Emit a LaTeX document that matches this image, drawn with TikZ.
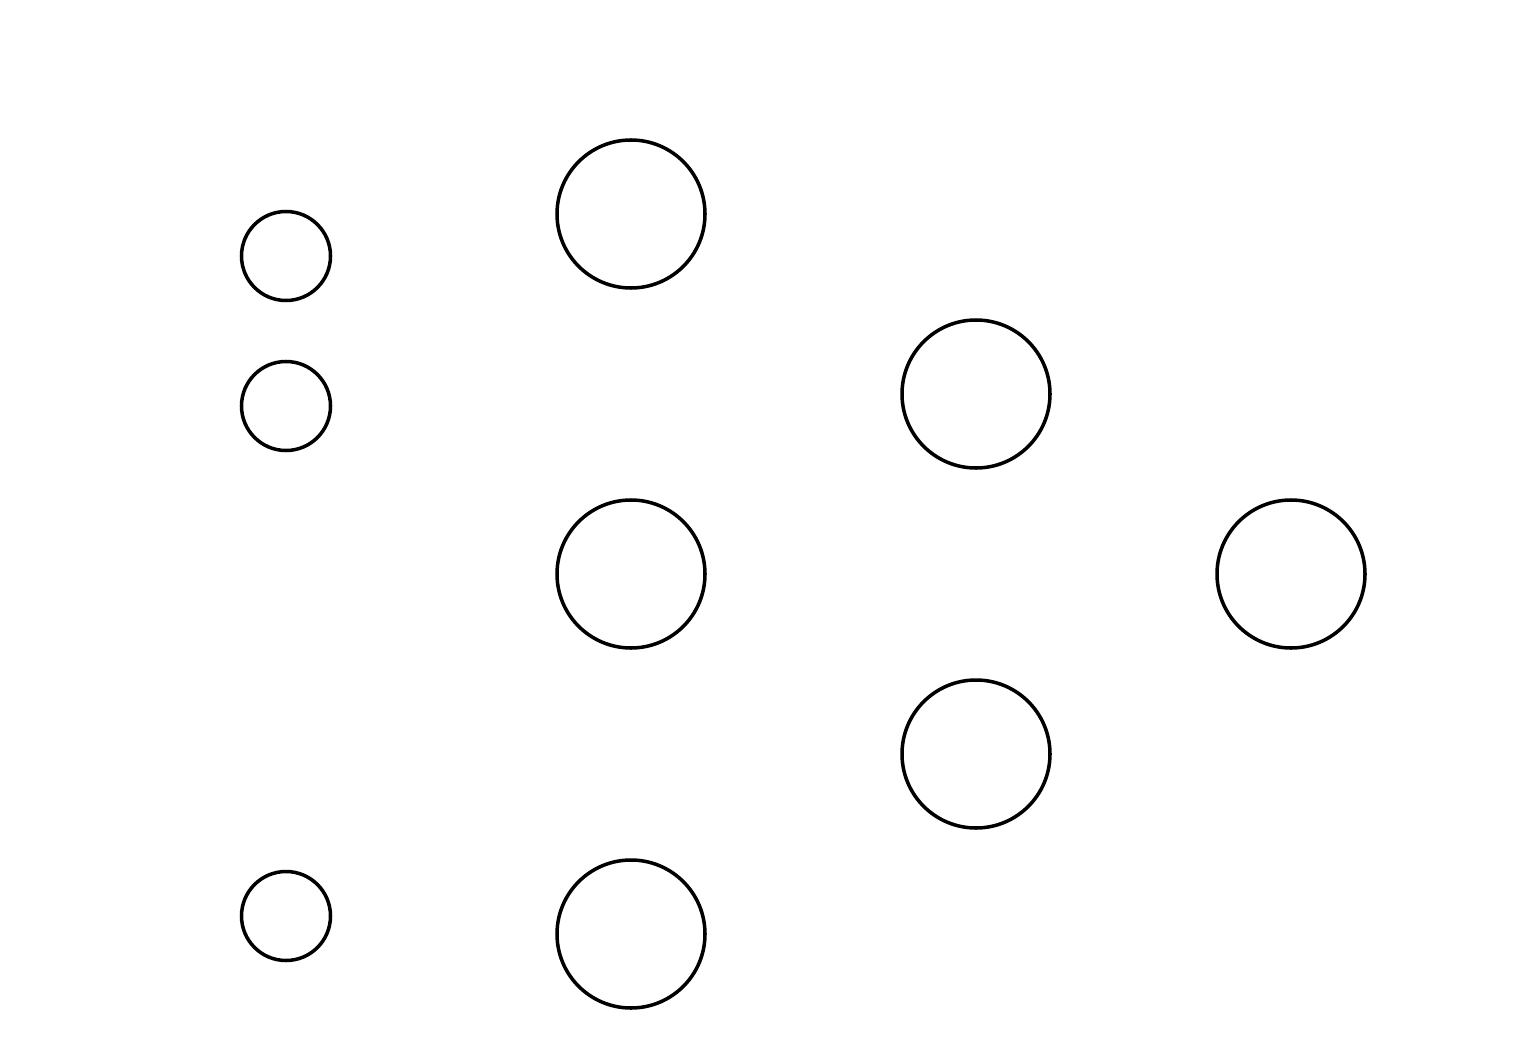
\documentclass[tikz,border=0pt]{standalone}
\usepackage{tikz}
\usetikzlibrary{shapes.geometric, calc, positioning}
\tikzstyle{inputneuron} = [circle, line width=1pt, draw=black, inner sep=0pt, minimum size=0.89cm]
\tikzstyle{neuron} = [circle, line width=1pt, draw=black, inner sep=0pt, minimum size=1.48cm]

\begin{document}
\begin{tikzpicture}[on grid, auto]
	\useasboundingbox (0,0) rectangle (15.27,10.41);
	\node (Input1) [inputneuron] at (2.86,7.85) {};
	\node (Input2) [inputneuron, below = 1.5cm of Input1] {};
	\node (Input3) [inputneuron, below = 5.1cm of Input2] {};
	\node (Hidden1) [neuron, above right = 0.42cm and 3.45cm of Input1] {};
	\node (Hidden2) [neuron, below = 3.6cm of Hidden1] {};
	\node (Hidden3) [neuron, below = 3.6cm of Hidden2] {};
	\node (Second1) [neuron, below right = 1.8cm and 3.45cm of Hidden1] {};
	\node (Second2) [neuron, below = 3.6cm of Second1] {};
	\node (Output) [neuron, below right = 1.8cm and 3.15cm of Second1] {};
\end{tikzpicture}
\end{document}
